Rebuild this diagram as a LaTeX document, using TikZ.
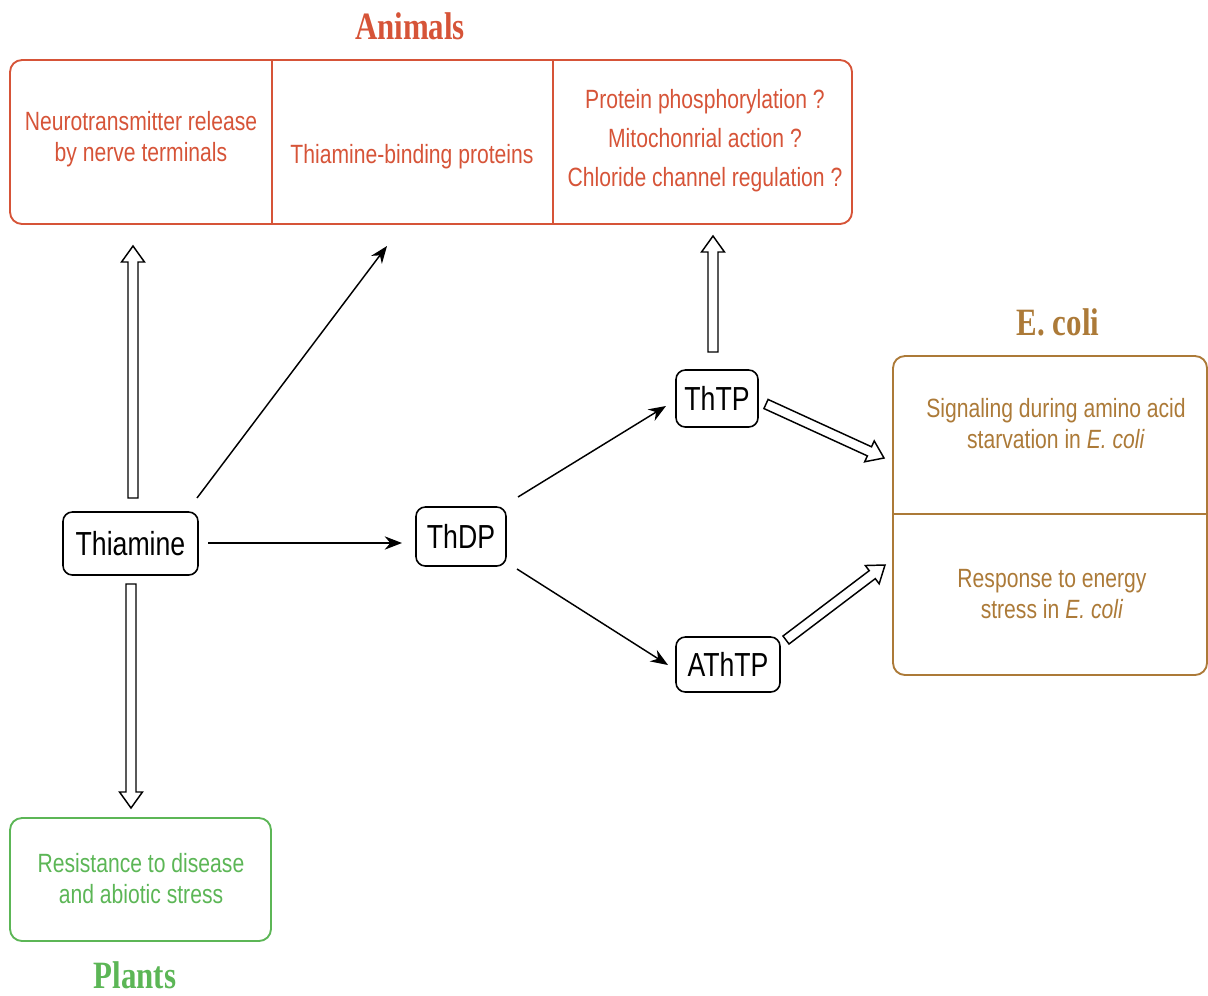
\documentclass[tikz,border=0pt]{standalone}
\usepackage{fontspec}
\newfontfamily\lab{Liberation Sans}[FakeStretch=0.8]
\newfontfamily\ttl{Liberation Serif}[FakeStretch=0.8]
\usetikzlibrary{arrows.meta,calc}
\definecolor{animred}{RGB}{214,84,56}
\definecolor{ecobrown}{RGB}{172,122,56}
\definecolor{plgreen}{RGB}{92,182,86}
\newcommand\hollowarrow[2]{%
  \draw[hollow] let \p1=(#1), \p2=(#2), \p3=($(\p2)!12pt!(\p1)$) in
    ($(\p1)!3.75pt!90:(\p2)$) -- ($(\p3)!3.75pt!90:(\p2)$) -- ($(\p3)!8.6pt!90:(\p2)$) --
    (\p2) -- ($(\p3)!8.6pt!-90:(\p2)$) -- ($(\p3)!3.75pt!-90:(\p2)$) --
    ($(\p1)!3.75pt!-90:(\p2)$) -- cycle;}
\begin{document}
\begin{tikzpicture}[x=0.75pt,y=-0.75pt,
  title/.style={font=\ttl\bfseries\fontsize{29}{31}\selectfont, inner sep=0pt},
  cbox/.style={draw, rounded corners=9pt, line width=1.4pt, inner sep=0pt},
  ctext/.style={font=\lab\fontsize{19.8}{23.25}\selectfont, align=center, inner sep=0pt},
  mol/.style={draw=black, rounded corners=7pt, line width=1.2pt, font=\lab\fontsize{25}{28}\selectfont, inner sep=0pt},
  arr/.style={line width=1.1pt, -{Stealth[length=13pt,width=10pt]}},
  hollow/.style={draw=black, fill=white, line width=1.1pt, line join=miter}]
\useasboundingbox (0,0) rectangle (1208,996);

% Animals
\node[title, text=animred] (animT) at (410,26) {Animals};
\node[cbox, draw=animred, minimum width=631.5pt, minimum height=123pt] (anim) at (431,142) {};
\draw[animred, line width=1.4pt] (272,60) -- (272,224);
\draw[animred, line width=1.4pt] (553,60) -- (553,224);
\node[ctext, text=animred] (c1) at (141,139) {Neurotransmitter release\\by nerve terminals};
\node[ctext, text=animred] (c2) at (412,157) {Thiamine-binding proteins};
\node[ctext, text=animred, font=\lab\fontsize{19.8}{29.25}\selectfont] (c3) at (705,141) {Protein phosphorylation ?\\Mitochonrial action ?\\Chloride channel regulation ?};

% E. coli
\node[title, text=ecobrown] (ecT) at (1058,322) {E. coli};
\node[cbox, draw=ecobrown, minimum width=235.5pt, minimum height=239.25pt] (eco) at (1050,515.5) {};
\draw[ecobrown, line width=1.4pt] (893,514) -- (1207,514);
\node[ctext, text=ecobrown] (e1) at (1056,424) {Signaling during amino acid\\starvation in \textit{E. coli}};
\node[ctext, text=ecobrown] (e2) at (1052,594) {Response to energy\\stress in \textit{E. coli}};

% Plants
\node[cbox, draw=plgreen, minimum width=195.75pt, minimum height=92.25pt] (pl) at (140.5,879.5) {};
\node[ctext, text=plgreen] (p1) at (141,879) {Resistance to disease\\and abiotic stress};
\node[title, text=plgreen] (plT) at (135,975) {Plants};

% molecules
\node[mol, minimum width=101.25pt, minimum height=47.25pt] (thi) at (130.5,543.5) {Thiamine};
\node[mol, minimum width=67.5pt, minimum height=44.25pt] (thdp) at (461,536.5) {ThDP};
\node[mol, minimum width=61.5pt, minimum height=42.75pt] (thtp) at (717,398.5) {ThTP};
\node[mol, minimum width=78pt, minimum height=41.25pt] (athtp) at (728,664.5) {AThTP};

% connector end points
\coordinate (a1s) at (197,498);
\coordinate (a1e) at (387,246);
\coordinate (a2s) at (208,543);
\coordinate (a2e) at (402,543);
\coordinate (a3s) at (518,497);
\coordinate (a3e) at (666,406);
\coordinate (a4s) at (517,569);
\coordinate (a4e) at (668,665);

\coordinate (h1s) at (133,498);
\coordinate (h1e) at (133,246);
\coordinate (h2s) at (131,584);
\coordinate (h2e) at (131,808);
\coordinate (h3s) at (713,352);
\coordinate (h3e) at (713,236);
\coordinate (h4s) at (766,404);
\coordinate (h4e) at (884,458);
\coordinate (h5s) at (786,640);
\coordinate (h5e) at (885,565);

\draw[arr] (a1s) -- (a1e);
\draw[arr] (a2s) -- (a2e);
\draw[arr] (a3s) -- (a3e);
\draw[arr] (a4s) -- (a4e);

\hollowarrow{h1s}{h1e}
\hollowarrow{h2s}{h2e}
\hollowarrow{h3s}{h3e}
\hollowarrow{h4s}{h4e}
\hollowarrow{h5s}{h5e}
\end{tikzpicture}
\end{document}
